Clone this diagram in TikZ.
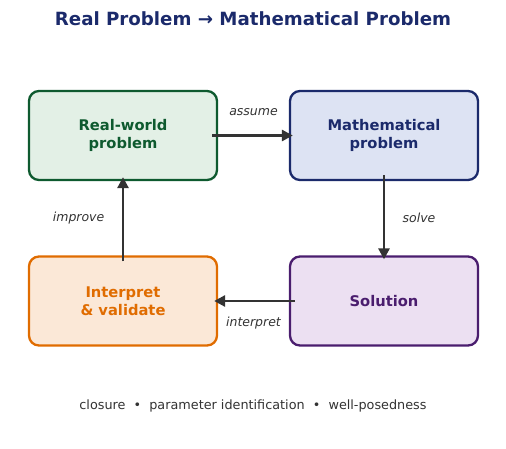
\documentclass[tikz,border=0pt]{standalone}
\usepackage{fontspec}
\setmainfont{DejaVu Sans}
\usetikzlibrary{positioning,arrows.meta}
\definecolor{titleblue}{HTML}{1B2A6B}
\definecolor{realdraw}{HTML}{0E5A2F}
\definecolor{realfill}{HTML}{E3F0E6}
\definecolor{mathdraw}{HTML}{1B2A6B}
\definecolor{mathfill}{HTML}{DDE3F3}
\definecolor{soldraw}{HTML}{4A1D6E}
\definecolor{solfill}{HTML}{ECE0F2}
\definecolor{valdraw}{HTML}{E06C00}
\definecolor{valfill}{HTML}{FBE8D7}
\definecolor{arrowgray}{HTML}{333333}
\tikzset{stage/.style={rounded corners=10pt, line width=2.3pt, minimum width=188pt, minimum height=89pt, align=center, font=\fontsize{14.7}{17.5}\selectfont\bfseries},
  flow/.style={line width=2.7pt, draw=arrowgray, -{Triangle[length=11pt,width=11pt]}, shorten >=-4pt, shorten <=-6pt},
  verb/.style={font=\fontsize{12.5}{14}\selectfont\itshape, text=arrowgray}}

\begin{document}
\begin{tikzpicture}[x=1pt,y=-1pt]
    \useasboundingbox (0,0) rectangle (506,448);
    \node[font=\fontsize{18.2}{21}\selectfont\bfseries, text=titleblue] (title) at (253,19) {Real Problem → Mathematical Problem};

    \node[stage, draw=realdraw, fill=realfill, text=realdraw] (real) at (123,135.5) {Real-world\\problem};
    \node[stage, draw=mathdraw, fill=mathfill, text=mathdraw] (math) at (384,135.5) {Mathematical\\problem};
    \node[stage, draw=soldraw, fill=solfill, text=soldraw] (sol) at (384,301) {Solution};
    \node[stage, draw=valdraw, fill=valfill, text=valdraw] (val) at (123,301) {Interpret\\\& validate};

    \draw[flow] (real) -- node[verb, above=15pt] {assume} (math);
    \draw[flow] (math) -- node[verb, right=14pt] {solve} (sol);
    \draw[flow] (sol) -- node[verb, below=11pt] {interpret} (val);
    \draw[flow] (val) -- node[verb, left=14pt] {improve} (real);

    \node[font=\fontsize{12.8}{15}\selectfont, text=arrowgray] (notes) at (253,406) {closure \ •\ \ parameter identification \ •\ \ well-posedness};
\end{tikzpicture}
\end{document}
